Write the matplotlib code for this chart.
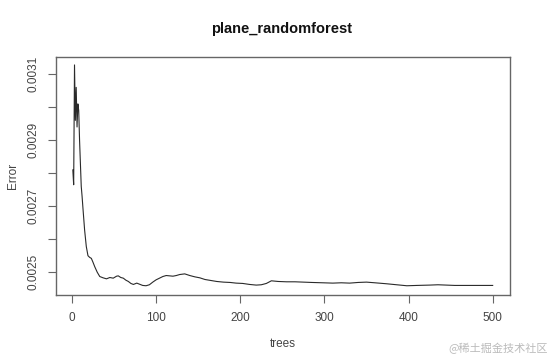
import matplotlib
matplotlib.use("Agg")
import matplotlib.pyplot as plt
import numpy as np

plt.rcParams['font.family'] = ['Liberation Sans', 'DejaVu Sans']

trees = [1, 2, 3, 4, 5, 6, 7, 8, 9, 10, 11, 12, 13, 15, 17, 19, 21, 23, 25, 27,
         30, 33, 37, 41, 45, 49, 53, 55, 58, 61, 64, 67, 70, 73, 77, 80, 84, 88,
         92, 96, 100, 104, 108, 112, 116, 120, 124, 128, 134, 140, 146, 152, 158,
         165, 172, 180, 188, 195, 203, 211, 219, 225, 231, 237, 245, 255, 265, 275,
         285, 298, 310, 320, 330, 340, 350, 360, 374, 386, 398, 410, 425, 435, 445,
         455, 465, 475, 485, 500]
error = [0.00281, 0.002765, 0.003128, 0.00296, 0.00306, 0.00294, 0.00301, 0.00299,
         0.00290, 0.00283, 0.00276, 0.00273, 0.002695, 0.002628, 0.002578, 0.00255,
         0.002545, 0.002542, 0.00253, 0.002517, 0.0025, 0.002487, 0.002483, 0.00248,
         0.002484, 0.002482, 0.002488, 0.002489, 0.002484, 0.002482, 0.002476,
         0.002472, 0.002466, 0.002463, 0.002467, 0.002464, 0.00246, 0.002459,
         0.002462, 0.00247, 0.002477, 0.002482, 0.002487, 0.00249, 0.002489,
         0.002488, 0.00249, 0.002493, 0.002495, 0.00249, 0.002486, 0.002483,
         0.002478, 0.002475, 0.002472, 0.00247, 0.002469, 0.002467, 0.002466,
         0.002463, 0.002461, 0.002462, 0.002466, 0.002474, 0.002472, 0.002471,
         0.002471, 0.00247, 0.002469, 0.002468, 0.002467, 0.002468, 0.002467,
         0.002469, 0.00247, 0.002468, 0.002465, 0.002462, 0.002459, 0.00246,
         0.002461, 0.002462, 0.002461, 0.00246, 0.00246, 0.00246, 0.00246, 0.00246]

xticks = [0, 100, 200, 300, 400, 500]
yticks_minor = [0.0025, 0.0026, 0.0027, 0.0028, 0.0029, 0.0030, 0.0031]
yticks_labeled = [0.0025, 0.0027, 0.0029, 0.0031]

W, H = 551, 358
fig = plt.figure(figsize=(W / 100, H / 100), dpi=100)
left, right, top, bottom = 56, 509.5, 57, 295
ax = fig.add_axes([left / W, 1 - bottom / H, (right - left) / W, (bottom - top) / H])

ax.plot(trees, error, color='#2a2a2a', lw=0.8)
ax.set_xlim(-19, 520)
ax.set_ylim(0.002431, 0.003152)

gray = '#444444'
for s in ax.spines.values():
    s.set_color('#666666')
    s.set_linewidth(1.0)

ax.set_xticks(xticks)
ax.set_xticklabels([str(t) for t in xticks])
ax.set_yticks(yticks_minor)
ax.set_yticklabels([('%.4f' % v) if any(abs(v - l) < 1e-9 for l in yticks_labeled) else ''
                    for v in yticks_minor], rotation=90, va='center')
ax.tick_params(axis='both', length=6, width=0.8, color='#666666', labelcolor=gray,
               labelsize=8.5)
ax.tick_params(axis='x', pad=6)
ax.tick_params(axis='y', pad=6)

ax.set_xlabel('trees', fontsize=8.5, color=gray, labelpad=10)
ax.set_ylabel('Error', fontsize=8.5, color=gray, labelpad=6)
fig.text(282 / W, 1 - 29 / H, 'plane_randomforest', ha='center', va='center',
         fontsize=10.5, fontweight='bold', color='#111111')

fig.text(548 / W, 1 - 348 / H, '@稀土掘金技术社区', ha='right', va='center',
         fontsize=8, color='#bbbbbb',
         family=['Noto Sans CJK SC', 'DejaVu Sans'])

fig.savefig('out.png', dpi=100)
